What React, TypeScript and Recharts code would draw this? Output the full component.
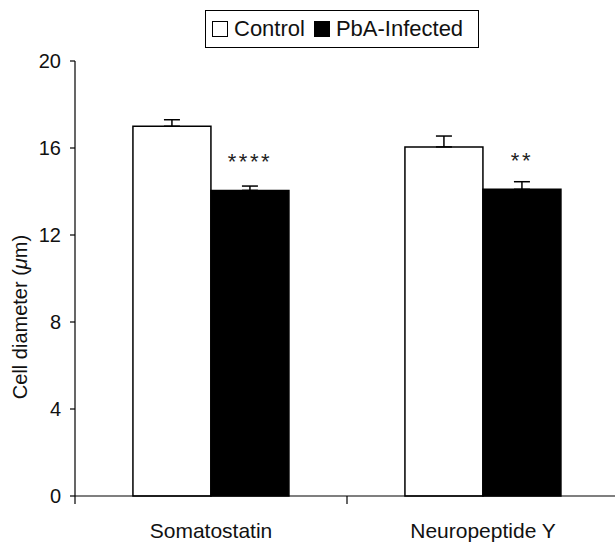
import React from "react";
import { BarChart, Bar, XAxis, YAxis, ErrorBar, LabelList, Legend } from "recharts";

const categories = ["Somatostatin", "Neuropeptide Y"];
const controlValues = [17.0, 16.05];
const controlErrors = [0.3, 0.5];
const infectedValues = [14.05, 14.1];
const infectedErrors = [0.2, 0.35];
const significance = ["****", "**"];
const yTicks = [0, 4, 8, 12, 16, 20];

const data = categories.map((c, i) => ({
  name: c,
  control: controlValues[i],
  controlErr: [0, controlErrors[i]],
  infected: infectedValues[i],
  infectedErr: [0, infectedErrors[i]],
  sig: significance[i],
}));

const FONT = "'Liberation Sans', Arial, Helvetica, sans-serif";

const XTick = (props: any) => {
  const { x, y, payload, width, visibleTicksCount } = props;
  const half = width / (2 * (visibleTicksCount || 2));
  return (
    <g>
      <line x1={x - half} y1={y} x2={x - half} y2={y + 8} stroke="#000" strokeWidth={1.2} />
      <text x={x} y={y + 42} textAnchor="middle" fontSize={21} fontFamily={FONT} fill="#111">
        {payload.value}
      </text>
    </g>
  );
};

const SigLabel = (props: any) => {
  const { x, y, width, value } = props;
  return (
    <text
      x={x + width / 2}
      y={y - 21}
      textAnchor="middle"
      fontSize={22}
      letterSpacing={2.5}
      fontFamily={FONT}
      fill="#222"
    >
      {value}
    </text>
  );
};

const YLabel = () => (
  <text
    x={0}
    y={0}
    transform="translate(27, 317) rotate(-90)"
    textAnchor="middle"
    fontSize={20}
    fontFamily={FONT}
    fill="#111"
  >
    Cell diameter (<tspan fontStyle="italic">μ</tspan>m)
  </text>
);

const LegendBox = () => (
  <div
    style={{
      border: "1.5px solid #000",
      display: "flex",
      alignItems: "center",
      height: 38,
      padding: "0 6px",
      fontFamily: FONT,
      fontSize: 22,
      color: "#111",
      background: "#fff",
      boxSizing: "border-box",
      width: 274,
      whiteSpace: "nowrap",
    }}
  >
    <span style={{ display: "inline-block", width: 16, height: 16, border: "1.3px solid #000", background: "#fff", marginRight: 6, boxSizing: "border-box" }} />
    <span style={{ marginRight: 9 }}>Control</span>
    <span style={{ display: "inline-block", width: 16, height: 16, background: "#000", marginRight: 6 }} />
    <span>PbA-Infected</span>
  </div>
);

export default function App() {
  return (
    <div style={{ position: "absolute", left: 0, top: 0, width: 615, height: 542, overflow: "hidden", background: "#fff" }}>
      <BarChart
        width={620}
        height={542}
        data={data}
        margin={{ top: 23, right: 1, bottom: 0, left: 0 }}
        barCategoryGap="21.3%"
        barGap={0}
      >
        <Legend
          verticalAlign="top"
          content={() => <LegendBox />}
          wrapperStyle={{ position: "absolute", top: 10, left: 205, width: 274, height: 38 }}
        />
        <XAxis
          dataKey="name"
          stroke="#000"
          strokeWidth={1.2}
          tickLine={false}
          tickSize={0}
          tickMargin={0}
          height={46}
          tick={<XTick />}
          interval={0}
        />
        <YAxis
          domain={[0, 20]}
          ticks={yTicks}
          width={75}
          stroke="#000"
          strokeWidth={1.2}
          tickSize={5}
          tickMargin={9}
          tick={{ fontSize: 20, fontFamily: FONT, fill: "#111" }}
          label={<YLabel />}
        />
        <Bar dataKey="control" fill="#fff" stroke="#000" strokeWidth={1.5} isAnimationActive={false}>
          <ErrorBar dataKey="controlErr" width={8} stroke="#000" strokeWidth={1.5} direction="y" />
        </Bar>
        <Bar dataKey="infected" fill="#000" stroke="#000" strokeWidth={1.5} isAnimationActive={false}>
          <ErrorBar dataKey="infectedErr" width={8} stroke="#000" strokeWidth={1.5} direction="y" />
          <LabelList dataKey="sig" content={<SigLabel />} />
        </Bar>
      </BarChart>
    </div>
  );
}
